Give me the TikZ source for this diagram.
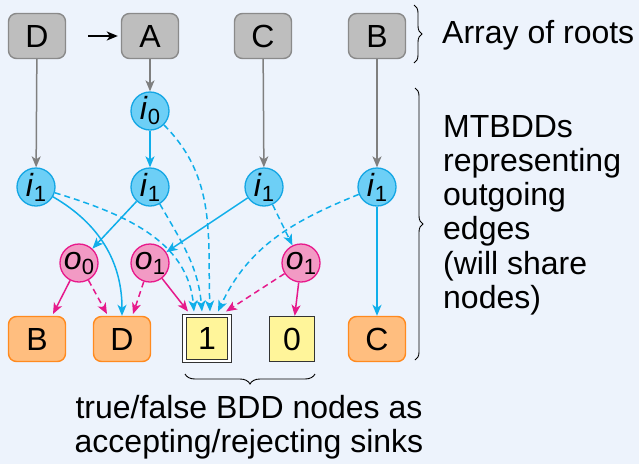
\documentclass[tikz,border=0pt]{standalone}
\usepackage{fontspec}
\setmainfont{Liberation Sans}
\usetikzlibrary{arrows.meta,decorations.pathreplacing,calc}
\definecolor{bgc}{HTML}{EDF3FC}
\definecolor{grayf}{HTML}{BEBEBE}
\definecolor{grayb}{HTML}{8A8A8A}
\definecolor{graye}{HTML}{7F7F7F}
\definecolor{cyanf}{HTML}{6DCFF6}
\definecolor{cyanb}{HTML}{14A6E4}
\definecolor{cyane}{HTML}{0FAEEA}
\definecolor{pinkf}{HTML}{F29AC4}
\definecolor{pinkb}{HTML}{E8198B}
\definecolor{pinke}{HTML}{E6198B}
\definecolor{orf}{HTML}{FFBE7F}
\definecolor{orb}{HTML}{FF8A1F}
\definecolor{yelf}{HTML}{FFF59A}
\definecolor{yelb}{HTML}{333333}
\newcommand{\vlab}[2]{\textit{#1}\raisebox{-5pt}{\fontsize{22}{22}\selectfont #2}}
\begin{document}
\begin{tikzpicture}[x=1pt,y=1pt,
  every node/.style={font=\fontsize{32}{34.3}\selectfont},
  tipc/.style={-{Stealth[length=11pt,width=9pt,inset=3pt]}},
  rootbox/.style={draw=grayb, fill=grayf, rounded corners=8pt, minimum width=57pt, minimum height=45pt, line width=1.4pt, inner sep=0},
  sinkbox/.style={draw=orb, fill=orf, rounded corners=8pt, minimum width=57pt, minimum height=45pt, line width=1.4pt, inner sep=0},
  termbox/.style={draw=yelb, fill=yelf, minimum width=45pt, minimum height=45pt, line width=1.3pt, inner sep=0},
  ivar/.style={circle, draw=cyanb, fill=cyanf, minimum size=38pt, line width=1.3pt, inner sep=0},
  ovar/.style={circle, draw=pinkb, fill=pinkf, minimum size=38pt, line width=1.3pt, inner sep=0},
  gedge/.style={tipc, draw=graye, line width=1.5pt},
  kedge/.style={tipc, draw=black, line width=1.5pt},
  bedge/.style={tipc, draw=cyane, line width=1.5pt},
  medge/.style={tipc, draw=pinke, line width=1.5pt},
  dsh/.style={dash pattern=on 6pt off 4pt},
  bracec/.style={draw=black, line width=0.9pt, decorate, decoration={brace, amplitude=#1}},
  txt/.style={inner sep=0, text=black}
]
\fill[bgc] (0,0) rectangle (639,-464);
\useasboundingbox (0,0) rectangle (639,-464);

% roots
\node[rootbox] (rD) at (37,-36) {D};
\node[rootbox] (rA) at (150,-36) {A};
\node[rootbox] (rC) at (263,-36) {C};
\node[rootbox] (rB) at (377,-36) {B};

% decision nodes
\node[ivar] (i0) at (150,-111) {\vlab{i}{0}};
\node[ivar] (i1a) at (36,-187) {\vlab{i}{1}};
\node[ivar] (i1b) at (150,-187) {\vlab{i}{1}};
\node[ivar] (i1c) at (264,-187) {\vlab{i}{1}};
\node[ivar] (i1d) at (377,-187) {\vlab{i}{1}};
\node[ovar] (o0) at (79,-263) {\vlab{o}{0}};
\node[ovar] (o1a) at (150,-263) {\vlab{o}{1}};
\node[ovar] (o1b) at (301,-263) {\vlab{o}{1}};

% sinks
\node[sinkbox] (bB) at (37,-339) {B};
\node[sinkbox] (bD) at (122,-339) {D};
\node[termbox, double=white, double distance=2.4pt, draw=yelb, line width=1.2pt] (one) at (207,-338.5) {1};
\node[termbox] (zero) at (292,-339) {0};
\node[sinkbox] (bC) at (377,-339) {C};

% entry points on sinks
\coordinate (e1) at ($(one.center)+(-19,27)$);
\coordinate (e2) at ($(one.center)+(-13,27)$);
\coordinate (e3) at ($(one.center)+(-5,27)$);
\coordinate (e4) at ($(one.center)+(3,27)$);
\coordinate (e5) at ($(one.center)+(11,27)$);
\coordinate (e6) at ($(one.center)+(19,27)$);
\coordinate (bBin) at ($(bB.center)+(16,25)$);
\coordinate (bDl) at ($(bD.center)+(-15,25)$);
\coordinate (bDr) at ($(bD.center)+(11,25)$);
\coordinate (dstart) at (88,-36);

% gray root edges
\draw[gedge] (rD) -- (i1a);
\draw[gedge] (rA) -- (i0);
\draw[gedge] (rC) -- (i1c);
\draw[gedge] (rB) -- (i1d);
\draw[kedge, shorten >=3pt] (dstart) -- (rA);

% input variable edges
\draw[bedge] (i0) -- (i1b);
\draw[bedge, dsh] (i0) to[out=-45,in=92] (e4);
\draw[bedge] (i1a) to[out=-30,in=90] (bD);
\draw[bedge, dsh] (i1a) to[out=-17,in=95] (e2);
\draw[bedge] (i1b) -- (o0);
\draw[bedge, dsh] (i1b) to[out=-60,in=95] (e3);
\draw[bedge] (i1c) -- (o1a);
\draw[bedge, dsh] (i1c) -- (o1b);
\draw[bedge, dsh] (i1d) to[out=-158,in=65] (e5);
\draw[bedge] (i1d) -- (bC);

% output variable edges
\draw[medge] (o0) -- (bBin);
\draw[medge, dsh] (o0) -- (bDl);
\draw[medge, dsh] (o1a) -- (bDr);
\draw[medge] (o1a) -- (e1);
\draw[medge, dsh] (o1b) -- (e6);
\draw[medge] (o1b) -- (zero);

% braces and texts
\draw[bracec=8pt] (414,-5) -- (414,-63);
\draw[bracec=8pt] (415,-88) -- (415,-360);
\draw[bracec=10pt] (315,-374) -- (185,-374);
\node[txt, anchor=base west] (t1) at (442,-43) {Array of roots};
\node[txt, anchor=base west] (t2) at (443,-137) {\parbox[t]{195pt}{\raggedright MTBDDs\\representing\\outgoing\\edges\\(will share\\nodes)}};
\node[txt, anchor=base] (t3) at (249,-418) {\parbox[t]{370pt}{\centering true/false BDD nodes as\\accepting/rejecting sinks}};
\end{tikzpicture}
\end{document}
